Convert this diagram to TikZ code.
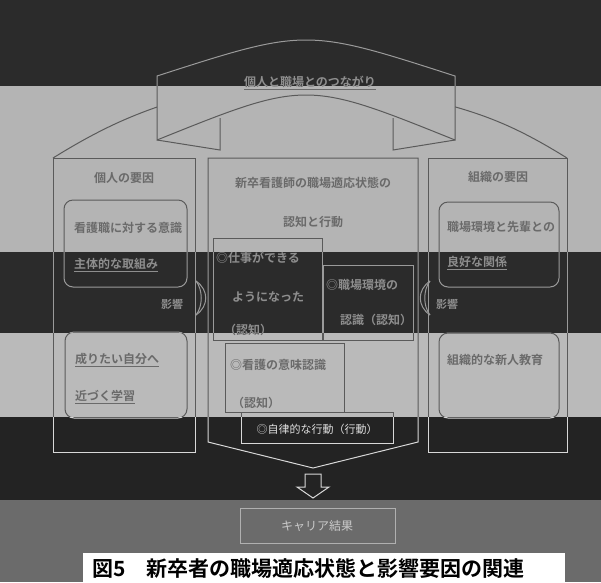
\documentclass[tikz,border=0pt]{standalone}
\usepackage{fontspec}
\setmainfont{Noto Sans CJK JP}
\newfontfamily\capfont{Noto Sans CJK JP Bold}
\usetikzlibrary{arrows.meta}
\definecolor{bgA}{HTML}{2B2B2B}
\definecolor{bgB}{HTML}{B4B4B4}
\definecolor{bgC}{HTML}{BABABA}
\definecolor{bgD}{HTML}{232323}
\definecolor{bgE}{HTML}{6B6B6B}
\definecolor{lnDark}{HTML}{9A9A9A}
\definecolor{txDark}{HTML}{8E8E8E}
\definecolor{lnLight}{HTML}{5A5A5A}
\definecolor{txLight}{HTML}{6A6A6A}
\definecolor{lnD}{HTML}{D8D8D8}
\definecolor{txD}{HTML}{E0E0E0}
\definecolor{lnE}{HTML}{B0B0B0}
\definecolor{txE}{HTML}{CACACA}
\tikzset{
  every node/.style={inner sep=0pt, font=\fontsize{12}{14}\selectfont},
  ln/.style={line width=1pt},
  rbox/.style={ln, rounded corners=9pt},
  small/.style={font=\fontsize{11}{13}\selectfont}
}
% #1 line colour, #2 text colour, #3 fill colour, #4 font switch
\newcommand\mydiag[4]{%
  % outer arch
  \draw[#1,ln] (53,158) .. controls (95,132) and (125,118) .. (160,106);
  \draw[#1,ln] (567,158) .. controls (525,132) and (495,118) .. (452,106);
  % banner tails
  \draw[#1,ln,fill=#3] (220,118) -- (220,150) -- (157,140);
  \draw[#1,ln,fill=#3] (393,118) -- (393,150) -- (455,140);
  % banner
  \draw[#1,ln,fill=#3] (157,76) .. controls (306,28) .. (455,76) -- (455,140) .. controls (306,80) .. (157,140) -- cycle;
  \node[text=#2] (bt) at (310,83) {#4\underline{個人と職場とのつながり}};
  % columns
  \draw[#1,ln] (53,158) rectangle (195,452);
  \draw[#1,ln] (208,158) -- (418,158) -- (418,442) -- (313,468) -- (208,442) -- cycle;
  \draw[#1,ln] (428,158) rectangle (567,452);
  % left column
  \node[text=#2] (lt) at (124,178) {#4個人の要因};
  \draw[#1,rbox] (64,200) rectangle (187,287);
  \node[text=#2,anchor=west] (l1a) at (74,228) {#4看護職に対する意識};
  \node[text=#2,anchor=west] (l1b) at (74,265) {#4\underline{主体的な取組み}};
  \draw[#1,rbox] (65,332) rectangle (187,418);
  \node[text=#2,anchor=west] (l2a) at (75,360) {#4\underline{成りたい自分へ}};
  \node[text=#2,anchor=west] (l2b) at (75,397) {#4\underline{近づく学習}};
  % centre column
  \node[text=#2] (ct1) at (313,183) {#4新卒看護師の職場適応状態の};
  \node[text=#2] (ct2) at (313,222) {#4認知と行動};
  \draw[#1,ln] (213,238) rectangle (322,340);
  \node[text=#2,anchor=west] (a1) at (216,258) {#4◎仕事ができる};
  \node[text=#2,anchor=west] (a2) at (232,297) {#4ようになった};
  \node[text=#2,anchor=west] (a3) at (224,330) {#4（認知）};
  \draw[#1,ln] (323,265) rectangle (413,340);
  \node[text=#2,anchor=west] (b1) at (326,285) {#4◎職場環境の};
  \node[text=#2,anchor=west] (b2) at (340,320) {#4認識（認知）};
  \draw[#1,ln] (225,343) rectangle (344,412);
  \node[text=#2,anchor=west] (c1) at (230,365) {#4◎看護の意味認識};
  \node[text=#2,anchor=west] (c2) at (232,403) {#4（認知）};
  \draw[#1,ln] (241,412) rectangle (393,443);
  \node[text=#2,small] (d1) at (317,429) {◎自律的な行動（行動）};
  % right column
  \node[text=#2] (rt) at (498,177) {#4組織の要因};
  \draw[#1,rbox] (439,202) rectangle (559,287);
  \node[text=#2,anchor=west] (r1a) at (447,227) {#4職場環境と先輩との};
  \node[text=#2,anchor=west] (r1b) at (447,263) {#4\underline{良好な関係}};
  \draw[#1,rbox] (439,333) rectangle (559,418);
  \node[text=#2,anchor=west] (r2a) at (447,360) {#4組織的な新人教育};
  % influence arrows
  \coordinate (la1) at (196,281);
  \coordinate (la2) at (196,315);
  \coordinate (ra1) at (430,281);
  \coordinate (ra2) at (430,315);
  \draw[#1,ln] (la1) .. controls (209,290) and (209,306) .. (la2);
  \draw[#1,ln] (la1) .. controls (203,290) and (203,306) .. (la2);
  \draw[#1,ln] (ra1) .. controls (417,290) and (417,306) .. (ra2);
  \draw[#1,ln] (ra1) .. controls (423,290) and (423,306) .. (ra2);
  \node[text=#2,small] (li) at (172,304) {#4影響};
  \node[text=#2,small] (ri) at (447,304) {#4影響};
  % down arrow
  \draw[#1,ln] (305,474) -- (321,474) -- (321,487) -- (329,487) -- (313,498) -- (297,487) -- (305,487) -- cycle;
  % career box
  \draw[#1,ln] (240,508) rectangle (395,543);
  \node[text=#2] (cr) at (317,526) {キャリア結果};
}
\begin{document}
\begin{tikzpicture}[x=1pt,y=-1pt]
\useasboundingbox (0,0) rectangle (601,582);
\clip (0,0) rectangle (601,582);
\begin{scope}\clip (0,0) rectangle (601,86);
  \fill[bgA] (0,0) rectangle (601,86);
  \mydiag{lnDark}{txDark}{bgA}{\capfont}
\end{scope}
\begin{scope}\clip (0,86) rectangle (601,252);
  \fill[bgB] (0,86) rectangle (601,252);
  \mydiag{lnLight}{txLight}{bgB}{\capfont}
\end{scope}
\begin{scope}\clip (0,252) rectangle (601,333);
  \fill[bgA] (0,252) rectangle (601,333);
  \mydiag{lnDark}{txDark}{bgA}{\capfont}
\end{scope}
\begin{scope}\clip (0,333) rectangle (601,417);
  \fill[bgC] (0,333) rectangle (601,417);
  \mydiag{lnLight}{txLight}{bgC}{\capfont}
\end{scope}
\begin{scope}\clip (0,417) rectangle (601,500);
  \fill[bgD] (0,417) rectangle (601,500);
  \mydiag{lnD}{txD}{bgD}{\capfont}
\end{scope}
\begin{scope}\clip (0,500) rectangle (601,582);
  \fill[bgE] (0,500) rectangle (601,582);
  \mydiag{lnE}{txE}{bgE}{\capfont}
\end{scope}
\fill[white] (83,553) rectangle (565,582);
\node[anchor=west, font=\capfont\fontsize{21}{23}\selectfont, text=black] (cap) at (92,568) {図5　新卒者の職場適応状態と影響要因の関連};
\end{tikzpicture}
\end{document}
